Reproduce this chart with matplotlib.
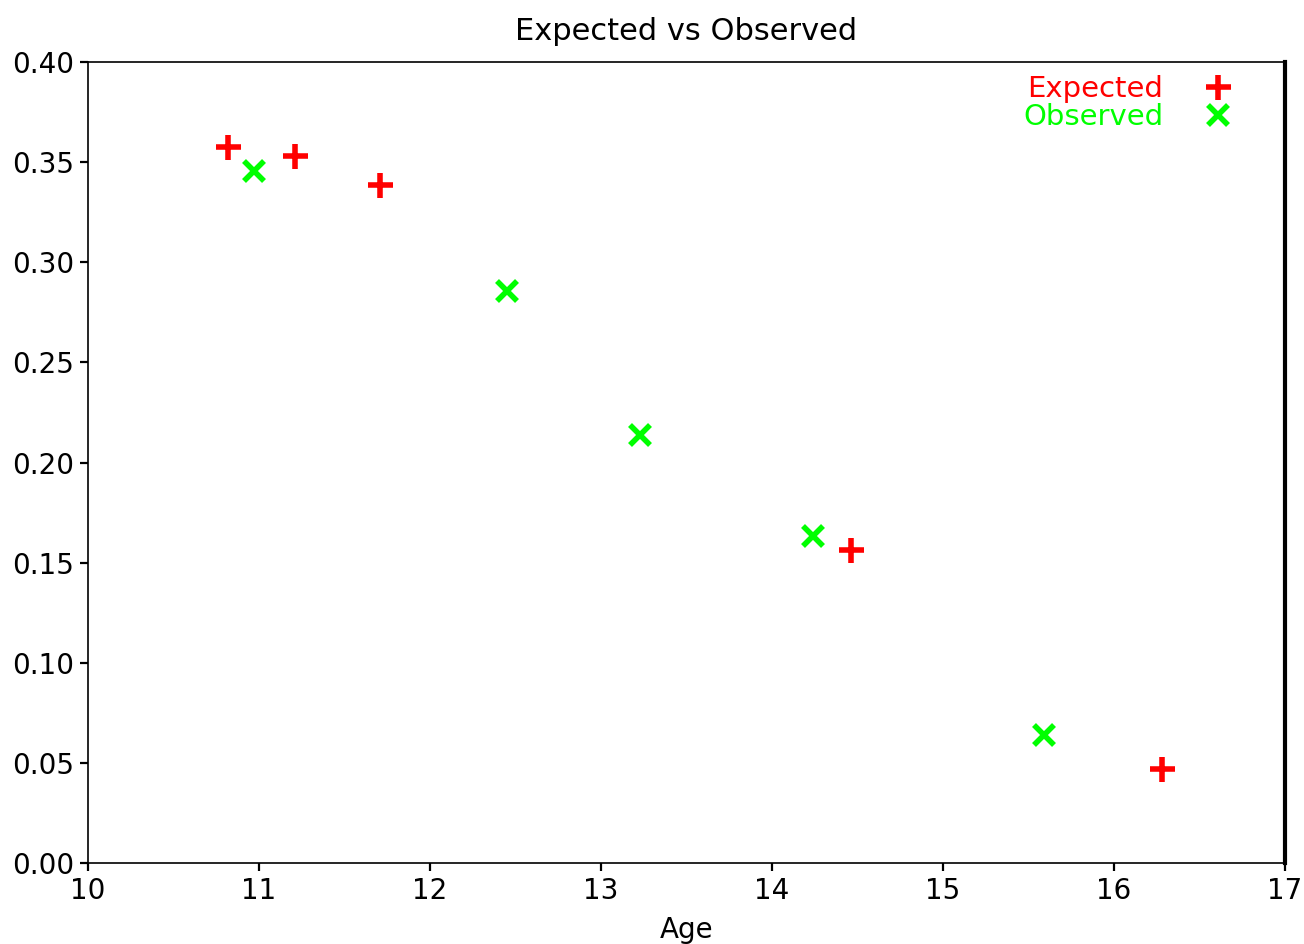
import matplotlib
matplotlib.use("Agg")
import matplotlib.pyplot as plt
from matplotlib.ticker import MultipleLocator, FormatStrFormatter

# Data
age_expected = [10.82, 11.21, 11.71, 14.46, 16.28]
val_expected = [0.3575, 0.353, 0.3386, 0.1562, 0.0468]

age_observed = [10.97, 12.45, 13.23, 14.24, 15.59]
val_observed = [0.3456, 0.2856, 0.2137, 0.1632, 0.0638]

x_ticks = [10, 11, 12, 13, 14, 15, 16, 17]
title = "Expected vs Observed"
xlabel = "Age"

fig = plt.figure(figsize=(6.52, 4.72), dpi=200)
ax = fig.add_axes([0.0675, 0.0858, 0.918, 0.8485])

ax.plot(age_expected, val_expected, linestyle="none", marker="+",
        markersize=9, markeredgewidth=2, color="red", label="Expected")
ax.plot(age_observed, val_observed, linestyle="none", marker="x",
        markersize=7, markeredgewidth=2, color="lime", label="Observed")

ax.set_xlim(10, 17)
ax.set_ylim(0.0, 0.40)
ax.set_xticks(x_ticks)
ax.yaxis.set_major_locator(MultipleLocator(0.05))
ax.yaxis.set_major_formatter(FormatStrFormatter("%.2f"))
ax.tick_params(labelsize=10, length=3, pad=2)

for s in ["top", "left", "bottom"]:
    ax.spines[s].set_linewidth(0.6)
ax.spines["right"].set_linewidth(1.5)

ax.set_title(title, fontsize=11, pad=8)
ax.set_xlabel(xlabel, fontsize=10, labelpad=4)

ax.legend(loc="upper right", bbox_to_anchor=(1 - 20 / 1197, 1.006),
          frameon=False, markerfirst=False, labelcolor="linecolor",
          fontsize=10.5, handletextpad=0.9, borderaxespad=0.2,
          labelspacing=0.0)

fig.savefig("out.png", dpi=200)
